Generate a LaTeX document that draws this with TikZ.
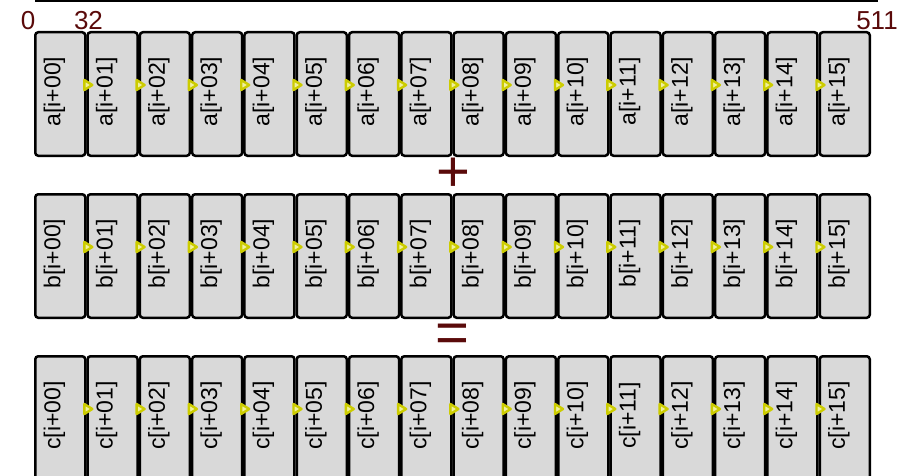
\documentclass[tikz,border=0pt]{standalone}
\usepackage{fontspec}
\setmainfont{Liberation Sans}
\definecolor{cellfill}{HTML}{D9D9D9}
\definecolor{markred}{HTML}{5A0A0A}
\definecolor{laneyellow}{HTML}{CCCC00}
\definecolor{laneinner}{HTML}{F0F0A0}
\begin{document}
\begin{tikzpicture}[x=1pt,y=-1pt,
  cell/.style={draw=black, line width=2.5pt, rounded corners=3pt, fill=cellfill,
    minimum width=50pt, minimum height=123.5pt, inner sep=0pt},
  lanetext/.style={rotate=90, anchor=base, inner sep=0pt,
    font=\fontsize{23}{25}\selectfont},
  offset/.style={text=markred, font=\fontsize{26}{28}\selectfont, inner sep=0pt},
  opsign/.style={text=markred, font=\fontsize{58}{60}\selectfont, inner sep=0pt},
  lanemark/.style={draw=laneyellow, fill=laneinner, line width=2.4pt, line join=round}]
\useasboundingbox (0,0) rectangle (915,476);

% register bar
\fill[black] (35,0) rectangle (878,2.5);

% bit offsets
\node[offset] (bit0)   at (28,20.5)  {0};
\node[offset] (bit32)  at (88.5,20.5) {32};
\node[offset] (bit511) at (877,20.5) {511};

% three vector registers of sixteen 32-bit lanes
\foreach \r/\cy in {a/94, b/256, c/418} {
  \foreach \k in {0,...,15} {
    \pgfmathsetmacro{\cx}{60.25+52.3*\k}
    \pgfmathsetmacro{\idx}{\k<10 ? "0\k" : "\k"}
    \node[cell] (\r\k) at (\cx,\cy) {};
    \node[lanetext] (\r\k t) at ([yshift=2.5pt]\r\k.center) {\r[i+\idx]};
  }
  \foreach \k in {1,...,15} {
    \draw[lanemark] ([xshift=-2pt,yshift=14pt]\r\k.west) --
      ([xshift=6pt,yshift=9pt]\r\k.west) --
      ([xshift=-2pt,yshift=4pt]\r\k.west) -- cycle;
  }
}

% operators between the registers
\node[opsign] (plus)   at (453,175) {+};
\node[opsign] (equals) at (452,338) {=};
\end{tikzpicture}
\end{document}
